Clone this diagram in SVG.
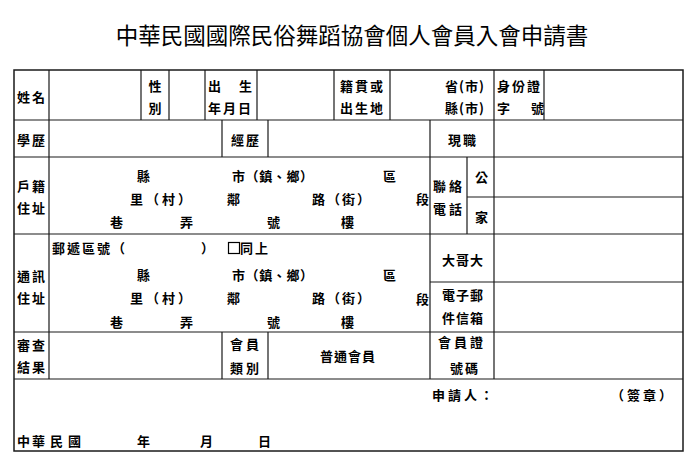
<svg xmlns="http://www.w3.org/2000/svg" width="700" height="474" viewBox="0 0 700 474">
<style>
.bg{fill:#ffffff}
.grid{fill:none;stroke:#1a1a1a;stroke-width:1.2}
.outer{fill:none;stroke:#1a1a1a;stroke-width:1.5}
.title{font-family:"Noto Sans CJK TC","Noto Sans CJK SC",sans-serif;font-size:22.5px;fill:#000;text-anchor:middle}
.t{font-family:"Noto Sans CJK TC","Noto Sans CJK SC",sans-serif;font-size:13px;font-weight:bold;fill:#000}
.s2{letter-spacing:2px}
.s3{letter-spacing:3px}
.s1{letter-spacing:1px}
.box{fill:none;stroke:#000;stroke-width:1.2}
</style>
<rect class="bg" x="0" y="0" width="700" height="474"/>
<text id="title" class="title" x="352" y="44">中華民國國際民俗舞蹈協會個人會員入會申請書</text>
<g id="grid">
<rect class="outer" x="14" y="70" width="669" height="381"/>
<path class="grid" d="M14 120H683M14 157H683M14 234H683M14 332H683M14 379H683M467 197H683M430 282H683
M49 70V379M494 70V379M430 120V379
M141 70V120M169 70V120M205 70V120M257 70V120M334 70V120M390 70V120M544 70V120
M222 120V157M268 120V157M222 332V379M268 332V379
M467 157V234"/>
</g>
<g id="row1">
<text class="t s2" x="17" y="101.5">姓名</text>
<text class="t" x="148.5" y="91">性</text>
<text class="t" x="148.5" y="113">別</text>
<text class="t" x="208" y="91">出</text>
<text class="t" x="239" y="91">生</text>
<text class="t s2" x="208" y="113">年月日</text>
<text class="t s2" x="340" y="91">籍貫或</text>
<text class="t s2" x="340" y="113">出生地</text>
<text class="t s1" x="445" y="91">省(市)</text>
<text class="t s1" x="445" y="113">縣(市)</text>
<text class="t s2" x="497" y="91">身份證</text>
<text class="t" x="497" y="113">字</text>
<text class="t" x="531" y="113">號</text>
</g>
<g id="row2">
<text class="t s2" x="17" y="145">學歷</text>
<text class="t s2" x="231" y="145">經歷</text>
<text class="t s2" x="448" y="145">現職</text>
</g>
<g id="row3">
<text class="t s2" x="17" y="191">戶籍</text>
<text class="t s2" x="17" y="213">住址</text>
<text class="t" x="137" y="181">縣</text>
<text class="t" x="232" y="181" style="letter-spacing:0.6px">市（鎮、鄉）</text>
<text class="t" x="383" y="181">區</text>
<text class="t s3" x="130" y="204">里（村）</text>
<text class="t" x="227" y="204">鄰</text>
<text class="t s2" x="312" y="204">路（街）</text>
<text class="t" x="416" y="204">段</text>
<text class="t" x="110" y="227">巷</text>
<text class="t" x="180" y="227">弄</text>
<text class="t" x="267" y="227">號</text>
<text class="t" x="341" y="227">樓</text>
<text class="t s3" x="433" y="191">聯絡</text>
<text class="t s3" x="433" y="214">電話</text>
<text class="t" x="475" y="182">公</text>
<text class="t" x="475" y="222">家</text>
</g>
<g id="row4">
<text class="t s2" x="52" y="253">郵遞區號（</text>
<text class="t" x="201" y="253">）</text>
<rect class="box" x="228.5" y="242.5" width="11" height="11"/>
<text class="t s2" x="240" y="253">同上</text>
<text class="t s2" x="17" y="281">通訊</text>
<text class="t s2" x="17" y="303">住址</text>
<text class="t" x="137" y="280">縣</text>
<text class="t" x="232" y="280" style="letter-spacing:0.6px">市（鎮、鄉）</text>
<text class="t" x="383" y="280">區</text>
<text class="t s3" x="130" y="303">里（村）</text>
<text class="t" x="227" y="303">鄰</text>
<text class="t s2" x="312" y="303">路（街）</text>
<text class="t" x="416" y="304">段</text>
<text class="t" x="110" y="327">巷</text>
<text class="t" x="180" y="327">弄</text>
<text class="t" x="267" y="327">號</text>
<text class="t" x="341" y="327">樓</text>
<text class="t s1" x="442" y="265">大哥大</text>
<text class="t s1" x="442" y="300">電子郵</text>
<text class="t s1" x="442" y="323">件信箱</text>
</g>
<g id="row5">
<text class="t s2" x="17" y="350">審查</text>
<text class="t s2" x="17" y="372">結果</text>
<text class="t s3" x="230" y="349">會員</text>
<text class="t s3" x="230" y="373">類別</text>
<text class="t s1" x="320" y="361">普通會員</text>
<text class="t s3" x="438" y="347">會員證</text>
<text class="t s2" x="450" y="373">號碼</text>
</g>
<g id="row6">
<text class="t s3" x="432" y="400">申請人：</text>
<text class="t s3" x="611" y="400">（簽章）</text>
<text class="t" x="17" y="446">中</text>
<text class="t" x="32" y="446">華</text>
<text class="t" x="50" y="446">民</text>
<text class="t" x="68" y="446">國</text>
<text class="t" x="137" y="446">年</text>
<text class="t" x="200" y="446">月</text>
<text class="t" x="258" y="446">日</text>
</g>
</svg>
